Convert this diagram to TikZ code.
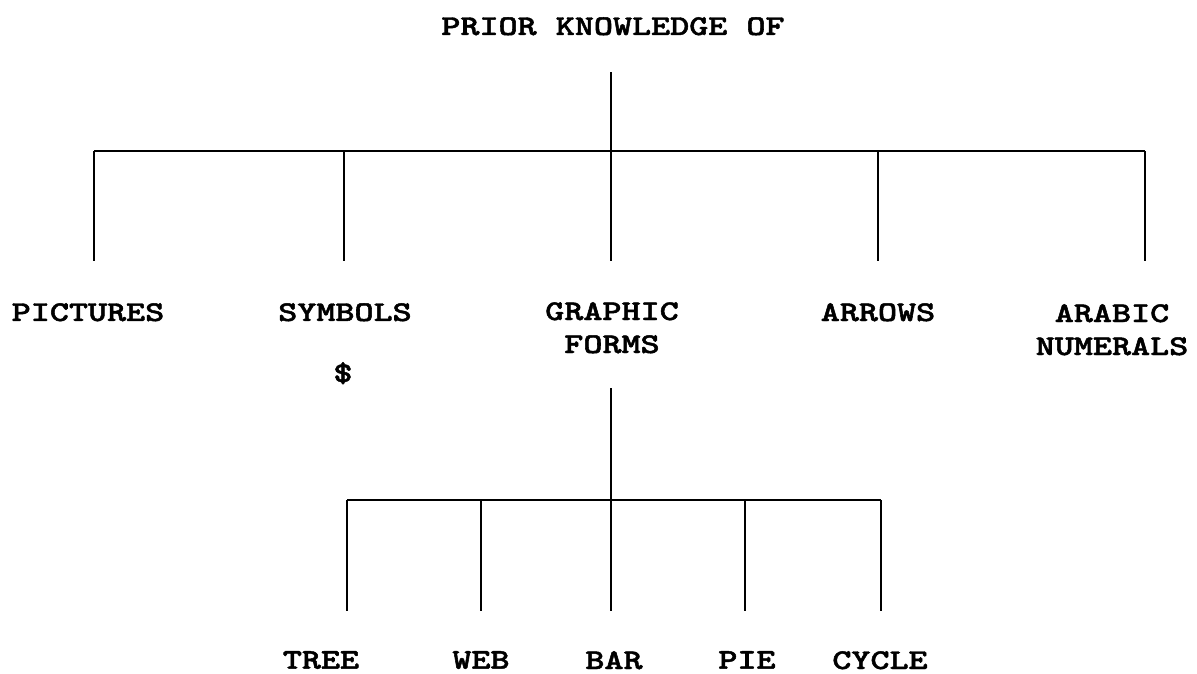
\documentclass[tikz,border=0pt]{standalone}
\usepackage{graphicx}
\font\cwf="[lmmonolt10-bold]:embolden=1.5" at 28.6pt
\newcommand\cw[1]{\scalebox{1.27}[1]{#1}}
\begin{document}
\begin{tikzpicture}[x=1pt,y=-1pt,
  lbl/.style={font=\fontsize{28.6}{33}\selectfont\cwf, inner sep=0pt, anchor=north, align=center},
  conn/.style={line width=2.2pt}]
\useasboundingbox (0,0) rectangle (1197,673);
% texts
\node[lbl] (title) at (613,17) {\cw{PRIOR KNOWLEDGE OF}};
\node[lbl] (pic) at (88,303) {\cw{PICTURES}};
\node[lbl] (sym) at (345,303) {\cw{SYMBOLS}};
\node[lbl] (dollar) at (343,362) {\cw{\$}};
\node[lbl] (gra) at (612,302) {\cw{GRAPHIC}\\\cw{FORMS}};
\node[lbl] (arr) at (878,303) {\cw{ARROWS}};
\node[lbl] (ara) at (1112,304) {\cw{ARABIC}\\\cw{NUMERALS}};
\node[lbl] (tree) at (321,651) {\cw{TREE}};
\node[lbl] (web) at (481,651) {\cw{WEB}};
\node[lbl] (bar) at (614,651) {\cw{BAR}};
\node[lbl] (pie) at (747,651) {\cw{PIE}};
\node[lbl] (cyc) at (880,651) {\cw{CYCLE}};
% coordinates of the upper tree
\coordinate (t0) at (611,72);
\coordinate (j1) at (611,151);
\coordinate (h1l) at (94,151);
\coordinate (h1s) at (344,151);
\coordinate (h1a) at (878,151);
\coordinate (h1r) at (1145,151);
\coordinate (e1) at (94,261);
\coordinate (e2) at (344,261);
\coordinate (e3) at (611,261);
\coordinate (e4) at (878,261);
\coordinate (e5) at (1145,261);
% coordinates of the lower tree
\coordinate (g0) at (611,388);
\coordinate (j2) at (611,500);
\coordinate (h2t) at (347,500);
\coordinate (h2w) at (481,500);
\coordinate (h2p) at (745,500);
\coordinate (h2c) at (881,500);
\coordinate (f1) at (347,611);
\coordinate (f2) at (481,611);
\coordinate (f3) at (611,611);
\coordinate (f4) at (745,611);
\coordinate (f5) at (881,611);
% connectors
\draw[conn] (t0) -- (j1);
\draw[conn] (h1l) -- (h1r);
\draw[conn] (h1l) -- (e1);
\draw[conn] (h1s) -- (e2);
\draw[conn] (j1) -- (e3);
\draw[conn] (h1a) -- (e4);
\draw[conn] (h1r) -- (e5);
\draw[conn] (g0) -- (j2);
\draw[conn] (h2t) -- (h2c);
\draw[conn] (h2t) -- (f1);
\draw[conn] (h2w) -- (f2);
\draw[conn] (j2) -- (f3);
\draw[conn] (h2p) -- (f4);
\draw[conn] (h2c) -- (f5);
\end{tikzpicture}
\end{document}
